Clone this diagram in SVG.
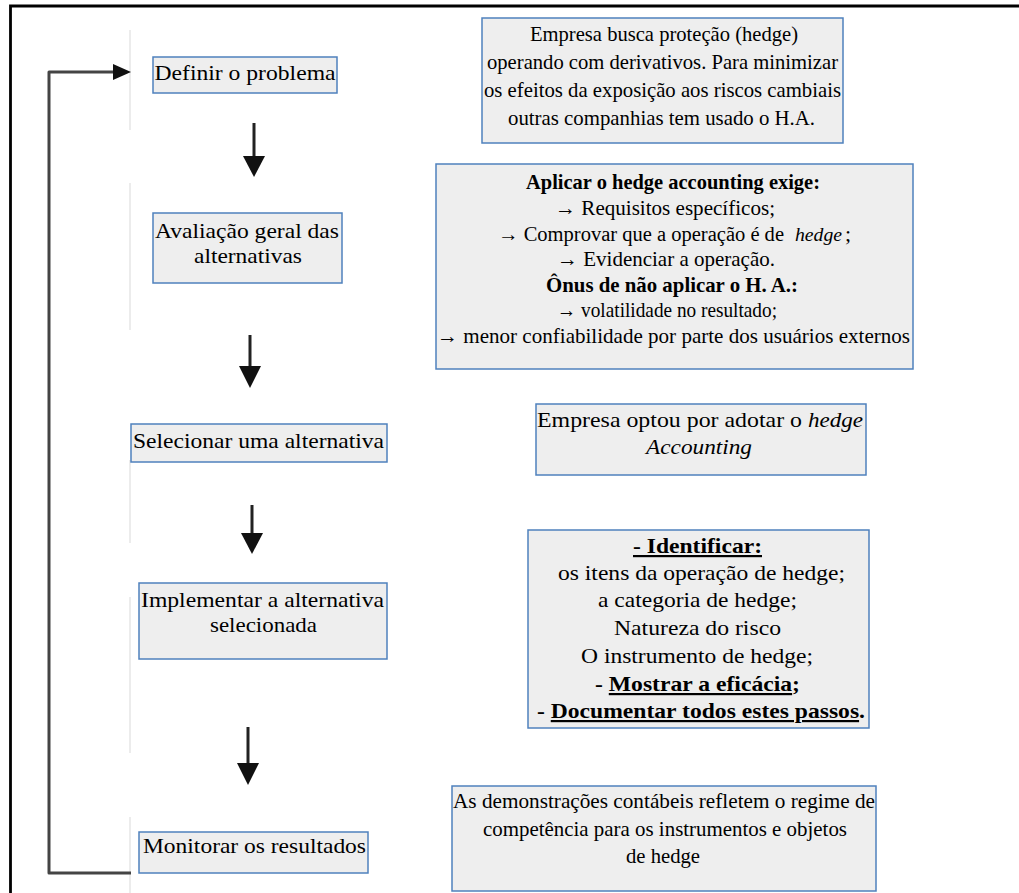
<svg xmlns="http://www.w3.org/2000/svg" width="1019" height="893" viewBox="0 0 1019 893">
  <style>
    .box { fill: #eeeeee; stroke: #4f81bd; stroke-width: 1.5; }
    .t { font-family: "Liberation Serif", "Times New Roman", serif; font-size: 22px; fill: #000; text-anchor: middle; }
    .s { text-anchor: start; }
    .b { font-weight: bold; }
    .i { font-style: italic; }
    .u { text-decoration: underline; }
    .shaft { stroke: #222; stroke-width: 3; fill: none; }
    .head { fill: #111; }
    .loop { stroke: #444; stroke-width: 3; fill: none; stroke-linejoin: round; }
    .guide { stroke: #e6e6e6; stroke-width: 1.5; fill: none; }
  </style>

  <!-- frame -->
  <path d="M10.5,893 V6 H1019" fill="none" stroke="#000" stroke-width="2.8"/>

  <!-- faint guide line left of the step boxes -->
  <g id="guide">
    <path class="guide" d="M130,30 V130 M130,183 V330 M130,460 V543 M130,597 V753 M130,817 V893"/>
  </g>

  <!-- connectors -->
  <g id="connectors">
    <line class="shaft" x1="254" y1="123" x2="254" y2="158"/>
    <polygon class="head" points="243,156 265,156 254,177"/>
    <line class="shaft" x1="250" y1="335" x2="250" y2="368"/>
    <polygon class="head" points="239,366 261,366 250,388"/>
    <line class="shaft" x1="252" y1="505" x2="252" y2="535"/>
    <polygon class="head" points="241,533 263,533 252,554"/>
    <line class="shaft" x1="248" y1="727" x2="248" y2="765"/>
    <polygon class="head" points="237,763 259,763 248,785"/>
    <!-- feedback loop from monitoring back to problem definition -->
    <path class="loop" d="M131,873 H49 V72 H115"/>
    <polygon class="head" points="113,64 131,72 113,80"/>
  </g>

  <!-- process steps -->
  <g id="step-definir">
    <rect class="box" x="153" y="57" width="184" height="36"/>
    <text class="t" x="245" y="80" textLength="181" lengthAdjust="spacingAndGlyphs">Definir o problema</text>
  </g>
  <g id="step-avaliacao">
    <rect class="box" x="153" y="213" width="189" height="70"/>
    <text class="t" x="247" y="238" textLength="184" lengthAdjust="spacingAndGlyphs">Avaliação  geral das</text>
    <text class="t" x="248" y="263" textLength="108" lengthAdjust="spacingAndGlyphs">alternativas</text>
  </g>
  <g id="step-selecionar">
    <rect class="box" x="131" y="424" width="256" height="38"/>
    <text class="t" x="258.5" y="448" textLength="251" lengthAdjust="spacingAndGlyphs">Selecionar uma alternativa</text>
  </g>
  <g id="step-implementar">
    <rect class="box" x="139" y="583" width="248" height="76"/>
    <text class="t" x="262.5" y="607" textLength="243" lengthAdjust="spacingAndGlyphs">Implementar a alternativa</text>
    <text class="t" x="263.5" y="632" textLength="107" lengthAdjust="spacingAndGlyphs">selecionada</text>
  </g>
  <g id="step-monitorar">
    <rect class="box" x="139" y="832" width="229" height="41"/>
    <text class="t" x="254.5" y="853" textLength="223" lengthAdjust="spacingAndGlyphs">Monitorar os resultados</text>
  </g>

  <!-- notes for each step -->
  <g id="note-problema">
    <rect class="box" x="482" y="18" width="361" height="125"/>
    <text class="t" x="664" y="41" textLength="268" lengthAdjust="spacingAndGlyphs">Empresa busca proteção (hedge)</text>
    <text class="t" x="662.5" y="69" textLength="351" lengthAdjust="spacingAndGlyphs">operando com derivativos. Para minimizar</text>
    <text class="t" x="662.5" y="97" textLength="357" lengthAdjust="spacingAndGlyphs">os efeitos da exposição aos riscos cambiais</text>
    <text class="t" x="661.5" y="125" textLength="307" lengthAdjust="spacingAndGlyphs">outras companhias tem usado o H.A.</text>
  </g>
  <g id="note-avaliacao">
    <rect class="box" x="436" y="164" width="477" height="205"/>
    <text class="t b" x="673" y="189" textLength="294" lengthAdjust="spacingAndGlyphs">Aplicar o hedge accounting exige:</text>
    <text class="t" x="665" y="215" textLength="220" lengthAdjust="spacingAndGlyphs">→ Requisitos específicos;</text>
    <text class="t s" x="498" y="241" style="font-size:20px" textLength="286" lengthAdjust="spacingAndGlyphs">→ Comprovar que a operação é de</text>
    <text class="t s i" x="795" y="241" style="font-size:19px" textLength="47" lengthAdjust="spacingAndGlyphs">hedge</text>
    <text class="t s" x="845" y="241">;</text>
    <text class="t" x="666" y="266" textLength="218" lengthAdjust="spacingAndGlyphs">→ Evidenciar a operação.</text>
    <text class="t b" x="672" y="292" textLength="252" lengthAdjust="spacingAndGlyphs">Ônus de não aplicar o H. A.:</text>
    <text class="t" x="667" y="317" textLength="220" lengthAdjust="spacingAndGlyphs">→ volatilidade no resultado;</text>
    <text class="t" x="673.5" y="343" textLength="473" lengthAdjust="spacingAndGlyphs">→ menor confiabilidade por parte dos usuários externos</text>
  </g>
  <g id="note-selecionar">
    <rect class="box" x="536" y="404" width="330" height="71"/>
    <text class="t s" x="537" y="427" textLength="265" lengthAdjust="spacingAndGlyphs">Empresa optou por adotar o</text>
    <text class="t s i" x="808" y="427" textLength="55" lengthAdjust="spacingAndGlyphs">hedge</text>
    <text class="t i" x="699" y="454" textLength="106" lengthAdjust="spacingAndGlyphs">Accounting</text>
  </g>
  <g id="note-implementar">
    <rect class="box" x="528" y="530" width="341" height="198"/>
    <text class="t b u" x="697.5" y="553" textLength="129" lengthAdjust="spacingAndGlyphs">- Identificar:</text>
    <text class="t" x="701.5" y="580" textLength="287" lengthAdjust="spacingAndGlyphs">os itens da operação de hedge;</text>
    <text class="t" x="697.5" y="607" textLength="199" lengthAdjust="spacingAndGlyphs">a categoria de hedge;</text>
    <text class="t" x="697.5" y="635" textLength="167" lengthAdjust="spacingAndGlyphs">Natureza do risco</text>
    <text class="t" x="697" y="663" textLength="232" lengthAdjust="spacingAndGlyphs">O instrumento de hedge;</text>
    <text class="t b" x="697.5" y="691" textLength="205" lengthAdjust="spacingAndGlyphs">- <tspan class="u">Mostrar a eficácia</tspan>;</text>
    <text class="t b" x="701" y="718" textLength="328" lengthAdjust="spacingAndGlyphs">- <tspan class="u">Documentar todos estes passos</tspan>.</text>
  </g>
  <g id="note-monitorar">
    <rect class="box" x="452" y="786" width="424" height="105"/>
    <text class="t" x="664" y="808" textLength="422" lengthAdjust="spacingAndGlyphs">As demonstrações contábeis refletem o regime de</text>
    <text class="t" x="665" y="836" textLength="364" lengthAdjust="spacingAndGlyphs">competência para os instrumentos e objetos</text>
    <text class="t" x="663" y="863" textLength="74" lengthAdjust="spacingAndGlyphs">de hedge</text>
  </g>
</svg>
